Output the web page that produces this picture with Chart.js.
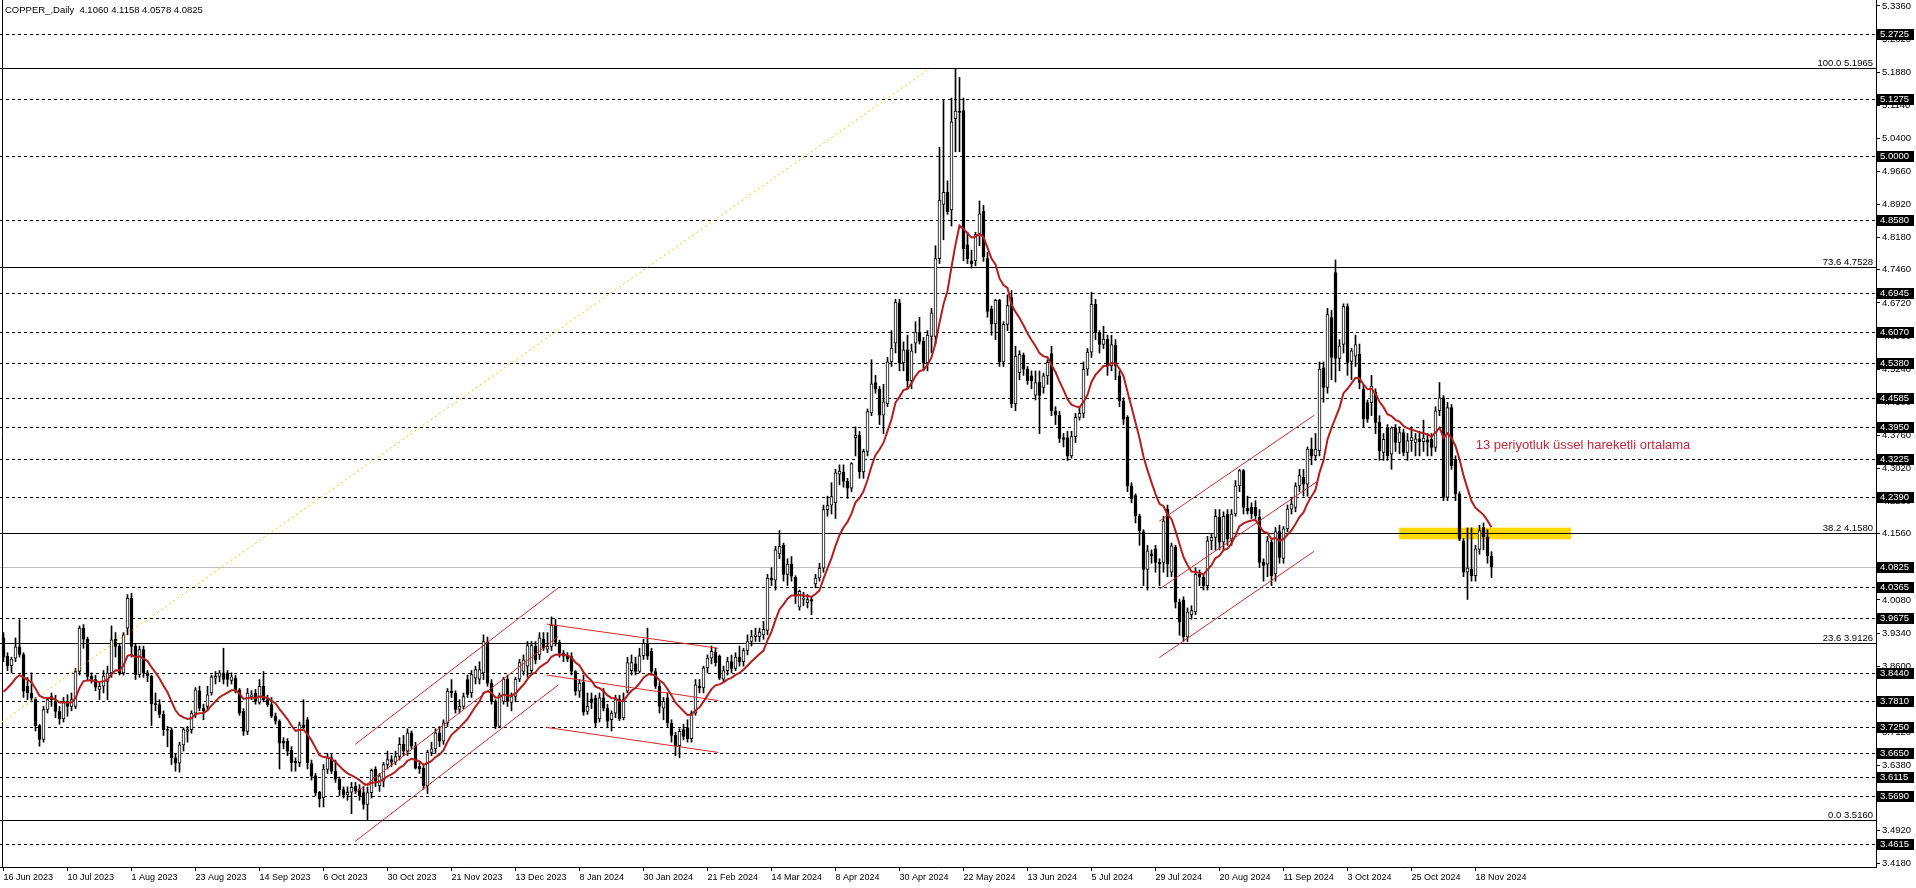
<!DOCTYPE html>
<html>
<head>
<meta charset="utf-8">
<title>COPPER_,Daily</title>
<script src="https://cdn.jsdelivr.net/npm/chart.js@4.4.1/dist/chart.umd.min.js"></script>
<style>
  html, body { margin: 0; padding: 0; background: #fff; overflow: hidden; }
  #wrap { width: 1916px; height: 888px; }
</style>
</head>
<body>
<div id="wrap"><canvas id="copperChart" width="1916" height="888"></canvas></div>
<script>
// Daily candles, one value per bar (bar 0 = 16 Jun 2023, last bar = 22 Nov 2024)
const opens = [
  3.923,3.882,3.861,3.878,3.903,3.886,3.815,3.800,3.786,3.727,
  3.696,3.763,3.785,3.781,3.759,3.742,3.781,3.770,3.770,3.848,
  3.945,3.920,3.837,3.830,3.808,3.815,3.826,3.845,3.920,3.904,
  3.845,3.945,4.012,3.904,3.841,3.897,3.845,3.838,3.776,3.774,
  3.752,3.718,3.717,3.655,3.643,3.684,3.714,3.718,3.755,3.805,
  3.766,3.770,3.800,3.833,3.837,3.845,3.845,3.828,3.833,3.807,
  3.759,3.714,3.792,3.800,3.779,3.815,3.785,3.774,3.748,3.737,
  3.692,3.692,3.672,3.647,3.644,3.729,3.740,3.642,3.615,3.578,
  3.566,3.629,3.655,3.625,3.607,3.584,3.572,3.578,3.592,3.585,
  3.577,3.551,3.577,3.629,3.593,3.603,3.640,3.651,3.645,3.658,
  3.685,3.670,3.711,3.681,3.636,3.632,3.593,3.667,3.675,3.711,
  3.692,3.733,3.804,3.800,3.763,3.770,3.830,3.800,3.833,3.831,
  3.845,3.913,3.822,3.781,3.725,3.781,3.831,3.779,3.792,3.831,
  3.848,3.860,3.850,3.904,3.885,3.920,3.898,3.904,3.952,3.913,
  3.889,3.882,3.882,3.848,3.804,3.824,3.759,3.787,3.789,3.742,
  3.789,3.766,3.740,3.755,3.787,3.744,3.804,3.850,3.865,3.848,
  3.883,3.911,3.893,3.848,3.815,3.766,3.789,3.732,3.705,3.682,
  3.718,3.722,3.698,3.755,3.815,3.811,3.856,3.878,3.891,3.882,
  3.831,3.850,3.870,3.855,3.880,3.870,3.895,3.915,3.926,3.926,
  3.930,3.940,4.057,4.052,4.111,4.130,4.065,4.088,4.059,3.992,
  4.009,4.002,4.009,4.044,4.057,4.079,4.210,4.220,4.225,4.289,
  4.294,4.273,4.258,4.370,4.376,4.294,4.340,4.426,4.494,4.479,
  4.421,4.447,4.540,4.582,4.672,4.538,4.567,4.498,4.582,4.607,
  4.586,4.538,4.597,4.597,4.771,4.892,4.919,4.880,5.084,5.101,
  5.102,4.802,4.766,4.766,4.825,4.877,4.771,4.659,4.625,4.678,
  4.540,4.624,4.684,4.446,4.516,4.555,4.524,4.509,4.466,4.495,
  4.483,4.509,4.559,4.431,4.421,4.371,4.371,4.330,4.373,4.416,
  4.425,4.524,4.562,4.669,4.605,4.579,4.591,4.531,4.577,4.509,
  4.453,4.416,4.263,4.241,4.196,4.161,4.076,4.111,4.122,4.092,
  4.092,4.211,4.070,4.126,4.003,4.007,3.925,3.975,3.981,4.066,
  4.059,4.040,4.140,4.148,4.193,4.137,4.200,4.144,4.200,4.263,
  4.297,4.213,4.215,4.215,4.193,4.092,4.088,4.137,4.066,4.161,
  4.101,4.167,4.211,4.215,4.263,4.282,4.267,4.345,4.330,4.341,
  4.527,4.483,4.639,4.740,4.548,4.579,4.664,4.541,4.553,4.557,
  4.479,4.449,4.449,4.472,4.405,4.338,4.393,4.334,4.393,4.360,
  4.382,4.338,4.364,4.360,4.368,4.362,4.366,4.367,4.349,4.431,
  4.460,4.237,4.438,4.323,4.245,4.140,4.070,4.077,4.062,4.121,4.170,4.149,4.1060
];
const highs = [
  3.935,3.890,3.880,3.923,3.964,3.890,3.835,3.845,3.790,3.730,
  3.770,3.790,3.800,3.795,3.770,3.790,3.796,3.800,3.855,3.950,
  3.953,3.925,3.845,3.840,3.825,3.850,3.860,3.950,3.935,3.910,
  3.935,4.020,4.023,3.910,3.905,3.905,3.850,3.840,3.800,3.785,
  3.760,3.725,3.722,3.665,3.690,3.722,3.725,3.760,3.812,3.815,
  3.775,3.815,3.840,3.848,3.850,3.900,3.850,3.845,3.840,3.810,
  3.765,3.810,3.805,3.808,3.830,3.848,3.795,3.790,3.755,3.740,
  3.700,3.698,3.680,3.655,3.735,3.785,3.745,3.650,3.620,3.580,
  3.640,3.665,3.665,3.650,3.612,3.590,3.590,3.600,3.600,3.595,
  3.590,3.590,3.630,3.635,3.620,3.645,3.670,3.660,3.670,3.700,
  3.705,3.720,3.715,3.690,3.645,3.640,3.672,3.690,3.720,3.725,
  3.740,3.810,3.830,3.805,3.785,3.800,3.840,3.850,3.860,3.870,
  3.930,3.925,3.830,3.785,3.800,3.835,3.840,3.800,3.835,3.875,
  3.885,3.915,3.915,3.915,3.935,3.935,3.935,3.970,3.965,3.918,
  3.895,3.890,3.890,3.850,3.830,3.840,3.800,3.800,3.795,3.800,
  3.810,3.775,3.760,3.795,3.795,3.800,3.880,3.885,3.880,3.900,
  3.920,3.945,3.900,3.855,3.825,3.790,3.800,3.740,3.712,3.720,
  3.730,3.740,3.760,3.830,3.830,3.860,3.885,3.905,3.900,3.885,
  3.860,3.880,3.885,3.890,3.905,3.900,3.930,3.940,3.945,3.945,
  3.960,4.065,4.080,4.128,4.163,4.135,4.100,4.105,4.062,4.030,
  4.025,4.020,4.015,4.065,4.090,4.220,4.240,4.270,4.300,4.310,
  4.310,4.280,4.315,4.395,4.385,4.345,4.435,4.545,4.510,4.485,
  4.490,4.550,4.610,4.680,4.680,4.585,4.600,4.580,4.630,4.640,
  4.595,4.610,4.660,4.800,5.020,5.125,4.945,5.130,5.1965,5.176,
  5.130,4.830,4.790,4.830,4.900,4.890,4.785,4.665,4.680,4.680,
  4.630,4.690,4.700,4.575,4.565,4.560,4.530,4.520,4.520,4.520,
  4.515,4.545,4.575,4.440,4.430,4.380,4.385,4.385,4.425,4.440,
  4.540,4.570,4.696,4.680,4.610,4.620,4.600,4.600,4.590,4.520,
  4.460,4.420,4.270,4.245,4.200,4.165,4.130,4.120,4.130,4.100,
  4.195,4.220,4.135,4.130,4.010,4.015,3.990,3.995,4.080,4.075,
  4.065,4.150,4.155,4.210,4.210,4.205,4.210,4.210,4.275,4.300,
  4.300,4.240,4.225,4.230,4.210,4.100,4.150,4.145,4.170,4.175,
  4.172,4.220,4.235,4.270,4.300,4.300,4.350,4.370,4.380,4.540,
  4.540,4.660,4.655,4.768,4.590,4.670,4.670,4.570,4.600,4.580,
  4.490,4.455,4.510,4.480,4.420,4.380,4.400,4.395,4.400,4.395,
  4.390,4.380,4.395,4.380,4.385,4.410,4.380,4.380,4.440,4.494,
  4.465,4.450,4.445,4.330,4.250,4.145,4.169,4.169,4.130,4.175,4.180,4.165,4.1158
];
const lows = [
  3.870,3.850,3.845,3.870,3.880,3.790,3.785,3.780,3.715,3.681,
  3.690,3.755,3.770,3.745,3.730,3.735,3.748,3.760,3.765,3.840,
  3.900,3.830,3.822,3.805,3.785,3.800,3.785,3.835,3.880,3.840,
  3.840,3.930,3.880,3.830,3.835,3.835,3.825,3.727,3.760,3.745,
  3.705,3.680,3.640,3.625,3.623,3.670,3.690,3.710,3.745,3.760,
  3.740,3.760,3.795,3.820,3.825,3.820,3.815,3.820,3.800,3.750,
  3.705,3.707,3.785,3.775,3.775,3.780,3.770,3.745,3.730,3.630,
  3.675,3.660,3.625,3.625,3.635,3.720,3.630,3.605,3.570,3.545,
  3.545,3.620,3.620,3.600,3.570,3.565,3.560,3.530,3.575,3.560,
  3.540,3.517,3.565,3.590,3.580,3.590,3.630,3.635,3.640,3.650,
  3.660,3.660,3.675,3.630,3.620,3.585,3.575,3.660,3.665,3.680,
  3.685,3.725,3.790,3.755,3.755,3.765,3.790,3.790,3.820,3.820,
  3.830,3.815,3.775,3.720,3.722,3.775,3.770,3.760,3.780,3.825,
  3.840,3.835,3.840,3.865,3.875,3.895,3.890,3.895,3.905,3.880,
  3.870,3.870,3.840,3.795,3.790,3.750,3.752,3.765,3.725,3.735,
  3.760,3.722,3.715,3.745,3.738,3.740,3.800,3.840,3.840,3.845,
  3.875,3.875,3.840,3.810,3.755,3.740,3.725,3.690,3.660,3.655,
  3.695,3.690,3.690,3.750,3.800,3.800,3.845,3.865,3.860,3.830,
  3.825,3.840,3.845,3.850,3.860,3.860,3.885,3.905,3.915,3.915,
  3.920,3.930,4.040,4.030,4.100,4.050,4.040,4.050,4.000,3.985,
  3.995,3.990,3.975,4.035,4.050,4.070,4.195,4.200,4.190,4.265,
  4.260,4.235,4.250,4.330,4.280,4.280,4.330,4.420,4.470,4.400,
  4.380,4.440,4.530,4.560,4.520,4.520,4.480,4.480,4.560,4.580,
  4.520,4.520,4.560,4.580,4.760,4.813,4.870,4.844,5.010,5.010,
  4.766,4.760,4.750,4.755,4.800,4.765,4.640,4.600,4.590,4.530,
  4.530,4.610,4.438,4.431,4.500,4.510,4.490,4.480,4.455,4.380,
  4.470,4.490,4.420,4.400,4.360,4.350,4.320,4.325,4.360,4.410,
  4.415,4.510,4.550,4.590,4.560,4.570,4.510,4.520,4.500,4.440,
  4.400,4.250,4.225,4.180,4.130,4.040,4.030,4.090,4.070,4.040,
  4.070,4.060,4.060,3.990,3.929,3.915,3.915,3.965,3.975,4.040,
  4.030,4.030,4.120,4.120,4.120,4.120,4.130,4.130,4.195,4.250,
  4.200,4.200,4.190,4.190,4.080,4.050,4.060,4.040,4.050,4.090,
  4.090,4.160,4.200,4.205,4.250,4.240,4.240,4.310,4.320,4.330,
  4.450,4.470,4.500,4.495,4.520,4.560,4.510,4.500,4.530,4.480,
  4.395,4.405,4.420,4.380,4.320,4.320,4.320,4.300,4.340,4.335,
  4.330,4.320,4.340,4.330,4.330,4.340,4.330,4.330,4.340,4.420,
  4.230,4.230,4.300,4.230,4.140,4.060,4.009,4.050,4.050,4.110,4.120,4.090,4.0578
];
const closes = [
  3.880,3.861,3.876,3.903,3.886,3.804,3.800,3.789,3.727,3.696,
  3.763,3.785,3.792,3.759,3.742,3.781,3.770,3.785,3.848,3.945,
  3.920,3.837,3.830,3.813,3.815,3.838,3.845,3.919,3.904,3.845,
  3.930,4.012,3.904,3.841,3.897,3.845,3.838,3.776,3.774,3.752,
  3.718,3.717,3.655,3.643,3.684,3.718,3.718,3.755,3.807,3.766,
  3.760,3.796,3.836,3.837,3.845,3.830,3.830,3.836,3.807,3.755,
  3.714,3.800,3.796,3.781,3.815,3.785,3.774,3.748,3.737,3.688,
  3.688,3.670,3.644,3.644,3.729,3.722,3.644,3.614,3.577,3.563,
  3.630,3.655,3.625,3.607,3.584,3.572,3.578,3.589,3.581,3.570,
  3.551,3.577,3.627,3.603,3.615,3.640,3.651,3.645,3.658,3.685,
  3.670,3.711,3.681,3.632,3.630,3.593,3.667,3.675,3.711,3.692,
  3.733,3.804,3.800,3.763,3.770,3.792,3.797,3.841,3.852,3.852,
  3.915,3.822,3.781,3.725,3.796,3.831,3.781,3.792,3.831,3.868,
  3.874,3.906,3.906,3.874,3.923,3.900,3.904,3.952,3.913,3.889,
  3.882,3.876,3.848,3.804,3.822,3.757,3.770,3.779,3.733,3.789,
  3.766,3.737,3.755,3.785,3.742,3.785,3.868,3.868,3.848,3.883,
  3.911,3.882,3.848,3.815,3.770,3.781,3.733,3.705,3.682,3.714,
  3.703,3.698,3.755,3.818,3.811,3.856,3.878,3.893,3.867,3.833,
  3.850,3.870,3.855,3.880,3.870,3.895,3.915,3.926,3.930,3.936,
  3.942,4.057,4.052,4.120,4.128,4.065,4.088,4.061,4.017,4.027,
  4.012,4.009,4.005,4.057,4.079,4.210,4.219,4.239,4.292,4.296,
  4.273,4.258,4.313,4.376,4.294,4.340,4.429,4.491,4.479,4.421,
  4.451,4.540,4.571,4.674,4.538,4.567,4.498,4.565,4.607,4.586,
  4.538,4.600,4.650,4.771,4.902,4.919,4.876,5.077,5.101,5.098,
  4.793,4.771,4.760,4.825,4.871,4.775,4.653,4.625,4.678,4.540,
  4.624,4.666,4.446,4.553,4.557,4.524,4.498,4.498,4.494,4.465,
  4.509,4.539,4.431,4.421,4.369,4.367,4.330,4.373,4.416,4.425,
  4.524,4.562,4.669,4.605,4.579,4.591,4.531,4.579,4.531,4.453,
  4.412,4.263,4.234,4.196,4.163,4.076,4.118,4.107,4.092,4.088,
  4.185,4.088,4.129,4.003,3.958,3.925,3.981,3.984,4.066,4.059,
  4.040,4.140,4.148,4.195,4.137,4.195,4.144,4.200,4.263,4.297,
  4.215,4.207,4.200,4.196,4.092,4.085,4.140,4.062,4.161,4.103,
  4.167,4.211,4.222,4.263,4.286,4.267,4.345,4.330,4.345,4.524,
  4.483,4.646,4.550,4.548,4.576,4.664,4.539,4.565,4.579,4.494,
  4.412,4.412,4.486,4.405,4.341,4.367,4.330,4.393,4.360,4.382,
  4.338,4.364,4.371,4.368,4.362,4.370,4.360,4.349,4.431,4.460,
  4.237,4.438,4.308,4.245,4.144,4.070,4.079,4.062,4.122,4.163,4.149,4.107,4.0825
];

// 13 period EMA, seeded with the value it shows at the left edge
const emaPeriod = 13;
const emaSeed = 3.79;

// axis ticks
const xTickIdx = [0,16,32,48,64,80,96,112,128,144,160,176,192,208,224,240,256,272,288,304,320,336,352,368];
const xTickLabels = ['16 Jun 2023','10 Jul 2023','1 Aug 2023','23 Aug 2023','14 Sep 2023','6 Oct 2023',
  '30 Oct 2023','21 Nov 2023','13 Dec 2023','8 Jan 2024','30 Jan 2024','21 Feb 2024','14 Mar 2024',
  '8 Apr 2024','30 Apr 2024','22 May 2024','13 Jun 2024','5 Jul 2024','29 Jul 2024','20 Aug 2024',
  '11 Sep 2024','3 Oct 2024','25 Oct 2024','18 Nov 2024'];
const yTickLabels = [5.336,5.262,5.188,5.114,5.040,4.966,4.892,4.818,4.746,4.672,4.598,4.524,4.450,4.376,
  4.302,4.228,4.156,4.082,4.008,3.934,3.860,3.786,3.712,3.638,3.564,3.492,3.418];

// horizontal objects
const dashLevels = [5.2725,5.1275,5.0000,4.8580,4.6945,4.6070,4.5380,4.4585,4.3950,4.3225,4.2390,
  4.0365,3.9675,3.8440,3.7810,3.7250,3.6650,3.6115,3.5690,3.4615];
const fibPrices = [5.1965,4.7528,4.1580,3.9126,3.5160];
const fibRatios = ['100.0','73.6','38.2','23.6','0.0'];
const lastPrice = 4.0825;

// fibo trend line (bar, price) and channels
const fibTrend = [[-35.2,3.516],[231.6,5.1965]];
const channelLines = [
  [[87.9,3.685],[138.7,4.035]], [[87.9,3.576],[138.7,3.926]], [[87.9,3.468],[138.7,3.818]],
  [[135.8,3.954],[178.7,3.900]], [[135.8,3.840],[178.7,3.783]], [[135.8,3.723],[178.7,3.667]],
  [[288.95,4.184],[327.7,4.421]], [[288.95,4.032],[328.3,4.272]], [[288.95,3.879],[327.7,4.117]]
];
const zoneBars = [348.9,391.9];
const zonePrices = [4.1435,4.1695];
const annoText = '13 periyotluk üssel hareketli ortalama';
const annoAt = [368.05,4.354];

const FONT = "'Liberation Sans', Arial, sans-serif";
const n = closes.length;

const emaK = 2 / (emaPeriod + 1);
const ema = [];
let prev = emaSeed;
closes.forEach(c => { prev = prev + emaK * (c - prev); ema.push(prev); });

const titleText = 'COPPER_,Daily  ' + [opens[n - 1], highs[n - 1], lows[n - 1], closes[n - 1]].map(v => v.toFixed(4)).join(' ');

const levelsPlugin = {
  id: 'levels',
  beforeDatasetsDraw(chart) {
    const { ctx, chartArea: a, scales: { x, y } } = chart;
    const py = v => Math.round(y.getPixelForValue(v)) + 0.5;
    ctx.save();
    ctx.beginPath();
    ctx.rect(a.left, a.top, a.right - a.left, a.bottom - a.top);
    ctx.clip();
    // yellow zone
    const zx0 = x.getPixelForValue(zoneBars[0]), zx1 = x.getPixelForValue(zoneBars[1]);
    const zy0 = y.getPixelForValue(zonePrices[1]), zy1 = y.getPixelForValue(zonePrices[0]);
    ctx.fillStyle = '#FFD700';
    ctx.fillRect(zx0, zy0, zx1 - zx0, zy1 - zy0);
    ctx.lineWidth = 1;
    ctx.strokeStyle = '#000';
    ctx.setLineDash([3, 3]);
    dashLevels.forEach(v => {
      const p = py(v);
      ctx.beginPath(); ctx.moveTo(a.left, p); ctx.lineTo(a.right, p); ctx.stroke();
    });
    ctx.setLineDash([]);
    ctx.strokeStyle = '#C0C0C0';
    let p = py(lastPrice);
    ctx.beginPath(); ctx.moveTo(a.left, p); ctx.lineTo(a.right, p); ctx.stroke();
    ctx.strokeStyle = '#000';
    fibPrices.forEach(v => {
      p = py(v);
      ctx.beginPath(); ctx.moveTo(a.left, p); ctx.lineTo(a.right, p); ctx.stroke();
    });
    // left frame
    ctx.beginPath(); ctx.moveTo(2.5, a.top); ctx.lineTo(2.5, a.bottom); ctx.stroke();
    ctx.restore();
  }
};

const overlayPlugin = {
  id: 'overlay',
  afterDraw(chart) {
    const { ctx, chartArea: a, scales: { x, y } } = chart;
    ctx.save();
    ctx.font = '9.5px ' + FONT;
    ctx.fillStyle = '#000';
    ctx.textAlign = 'right';
    ctx.textBaseline = 'alphabetic';
    fibPrices.forEach((v, k) => {
      ctx.fillText(fibRatios[k] + ' ' + v.toFixed(4), a.right - 3, Math.round(y.getPixelForValue(v)) - 2);
    });
    ctx.textAlign = 'left';
    ctx.textBaseline = 'middle';
    dashLevels.concat([lastPrice]).forEach(v => {
      const p = Math.round(y.getPixelForValue(v));
      ctx.fillStyle = '#000';
      ctx.fillRect(a.right + 1, p - 5, 37, 11);
      ctx.fillStyle = '#fff';
      ctx.fillText(v.toFixed(4), a.right + 4, p + 0.5);
    });
    ctx.fillStyle = '#000';
    ctx.fillText(titleText, 5, 10);
    ctx.font = '13px ' + FONT;
    ctx.fillStyle = '#C3283F';
    ctx.fillText(annoText, x.getPixelForValue(annoAt[0]), y.getPixelForValue(annoAt[1]));
    ctx.restore();
  }
};

const lineSet = (pts, color, dash, order) => ({
  type: 'line',
  data: pts.map(q => ({ x: q[0], y: q[1] })),
  borderColor: color,
  borderWidth: 1,
  borderDash: dash,
  pointRadius: 0,
  tension: 0,
  order: order
});

const datasets = [
  {
    type: 'line',
    label: 'EMA 13',
    data: ema.map((v, i) => ({ x: i, y: v })),
    borderColor: '#B41E1E',
    borderWidth: 2,
    pointRadius: 0,
    tension: 0,
    order: -3
  },
  lineSet(fibTrend, '#F2C200', [2, 3], -1),
  ...channelLines.map(l => lineSet(l, '#D42A2A', [], -2)),
  {
    label: 'body',
    data: opens.map((o, i) => ({ x: i, y: [o, closes[i]] })),
    backgroundColor: opens.map((o, i) => closes[i] >= o ? '#fff' : '#000'),
    borderColor: '#000',
    borderWidth: 1,
    borderSkipped: false,
    barThickness: 3,
    grouped: false,
    order: 0
  },
  {
    label: 'wick',
    data: lows.map((l, i) => ({ x: i, y: [l, highs[i]] })),
    backgroundColor: '#000',
    borderWidth: 0,
    barThickness: 1,
    grouped: false,
    order: 1
  }
];

new Chart(document.getElementById('copperChart'), {
  type: 'bar',
  data: { datasets: datasets },
  plugins: [levelsPlugin, overlayPlugin],
  options: {
    responsive: false,
    animation: false,
    devicePixelRatio: 1,
    layout: { padding: 0 },
    plugins: { legend: { display: false }, tooltip: { enabled: false } },
    scales: {
      x: {
        type: 'linear',
        position: 'bottom',
        offset: false,
        min: -0.875,
        max: 468.125,
        afterBuildTicks: s => { s.ticks = xTickIdx.map(v => ({ value: v })); },
        afterFit: s => { s.height = 21; s.paddingLeft = 0; s.paddingRight = 0; },
        ticks: {
          autoSkip: false,
          maxRotation: 0,
          minRotation: 0,
          align: 'start',
          padding: 1,
          color: '#000',
          font: { family: FONT, size: 9 },
          callback: v => { const k = xTickIdx.indexOf(v); return k >= 0 ? xTickLabels[k] : ''; }
        },
        grid: { drawOnChartArea: false, tickLength: 4, color: '#000', offset: false },
        border: { color: '#000', width: 1 }
      },
      y: {
        type: 'linear',
        position: 'right',
        min: 3.4109,
        max: 5.3492,
        afterBuildTicks: s => { s.ticks = yTickLabels.map(v => ({ value: v })); },
        afterFit: s => { s.width = 40; s.paddingTop = 0; s.paddingBottom = 0; },
        ticks: {
          autoSkip: false,
          padding: 2,
          color: '#000',
          font: { family: FONT, size: 9.5 },
          callback: v => v.toFixed(4)
        },
        grid: { drawOnChartArea: false, tickLength: 4, color: '#000' },
        border: { color: '#000', width: 1 }
      }
    }
  }
});
</script>
</body>
</html>
